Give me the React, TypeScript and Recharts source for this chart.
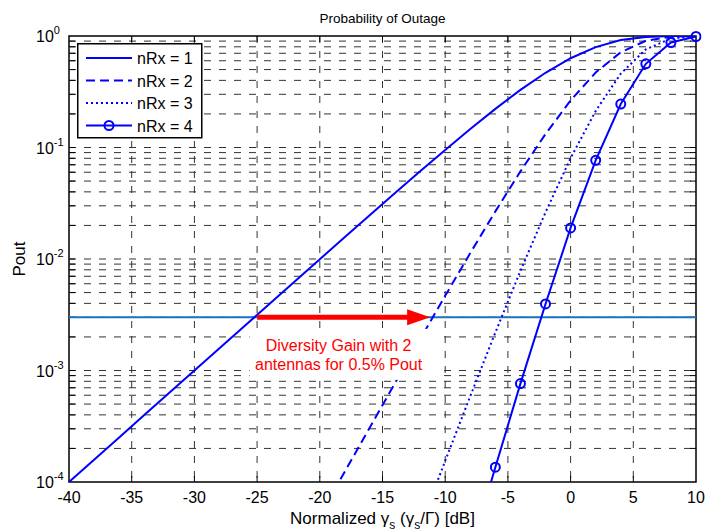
import React from 'react';
import { LineChart, Line, XAxis, YAxis, ReferenceLine, ReferenceDot, ReferenceArea, Legend } from 'recharts';

// Normalized SNR (dB) sample points
const snrDb = [-40, -38, -36, -34, -32, -30, -28, -26, -24, -22, -20, -18, -16, -14, -12, -10, -8, -6, -4, -2, 0, 2, 4, 6, 8, 10];

// Outage probability for each number of receive antennas
const poutRx1 = [1.0e-4, 1.585e-4, 2.512e-4, 3.98e-4, 6.308e-4, 9.995e-4, 1.584e-3, 2.509e-3, 3.973e-3, 6.29e-3, 9.95e-3, 1.572e-2, 2.481e-2, 3.903e-2, 6.115e-2, 9.516e-2, 0.1466, 0.2221, 0.3284, 0.4679, 0.6321, 0.795, 0.9189, 0.9813, 0.9982, 0.99995];
const poutRx2 = [null, null, null, null, null, null, null, null, null, null, 4.97e-5, 1.243e-4, 3.1e-4, 7.72e-4, 1.909e-3, 4.679e-3, 1.131e-2, 2.674e-2, 6.105e-2, 0.1322, 0.2642, 0.4702, 0.7152, 0.907, 0.9867, 0.9995];
const poutRx3 = [null, null, null, null, null, null, null, null, null, null, null, null, null, null, 3.993e-5, 1.5465e-4, 5.894e-4, 2.1905e-3, 7.825e-3, 2.623e-2, 8.03e-2, 0.2127, 0.4593, 0.7591, 0.9505, 0.9972];
const poutRx4 = [null, null, null, null, null, null, null, null, null, null, null, null, null, null, null, null, 2.315e-5, 1.358e-4, 7.627e-4, 3.95e-3, 1.899e-2, 7.67e-2, 0.2451, 0.5629, 0.8745, 0.9897];

const seriesNames = ['nRx = 1', 'nRx = 2', 'nRx = 3', 'nRx = 4'];
const xTicks = [-40, -35, -30, -25, -20, -15, -10, -5, 0, 5, 10];
const yTicks = [1e-4, 1e-3, 1e-2, 1e-1, 1];
const yMinorMultipliers = [2, 3, 4, 5, 6, 7, 8, 9];

const thresholdPout = 0.003;
const arrowStartDb = -25;
const arrowTipDb = -11.2;
const annotationDb = -18.5;
const annotationPout = 0.0015;
const annotationLines = ['Diversity Gain with 2', 'antennas for 0.5% Pout'];

const titleText = 'Probability of Outage';

const data = snrDb.map((x, i) => ({ x, p1: poutRx1[i], p2: poutRx2[i], p3: poutRx3[i], p4: poutRx4[i] }));

const gridY: number[] = [];
yTicks.slice(0, -1).forEach((d, i) => {
  if (i > 0) gridY.push(d);
  yMinorMultipliers.forEach((m) => gridY.push(d * m));
});
const gridX = xTicks.slice(1, -1);

const FONT = '"Liberation Sans", Arial, Helvetica, sans-serif';
const BLUE = '#0000ff';
const GRID = '#333333';
const TICK = 6;

const seriesStyles = [
  { key: 'p1', dash: undefined as string | undefined, marker: false },
  { key: 'p2', dash: '9 5', marker: false },
  { key: 'p3', dash: '2 3', marker: false },
  { key: 'p4', dash: undefined, marker: true },
];

const HGridShape = (p: any) => {
  const { x1, y1, x2, y2 } = p;
  return (
    <g>
      <line x1={x1} y1={y1} x2={x2} y2={y2} stroke={GRID} strokeWidth={1} strokeDasharray="7 8" />
      <line x1={x1} y1={y1} x2={x1 + TICK} y2={y1} stroke="#000" strokeWidth={1} />
      <line x1={x2 - TICK} y1={y1} x2={x2} y2={y1} stroke="#000" strokeWidth={1} />
    </g>
  );
};

const VGridShape = (p: any) => {
  const { x1, y1, x2, y2 } = p;
  const top = Math.min(y1, y2);
  const bot = Math.max(y1, y2);
  return (
    <g>
      <line x1={x1} y1={top} x2={x2} y2={bot} stroke={GRID} strokeWidth={1} strokeDasharray="7 8" />
      <line x1={x1} y1={bot} x2={x1} y2={bot - TICK} stroke="#000" strokeWidth={1} />
      <line x1={x1} y1={top} x2={x1} y2={top + TICK} stroke="#000" strokeWidth={1} />
    </g>
  );
};

const ArrowShape = (p: any) => {
  const { x1, y1, x2 } = p;
  const headLen = 23;
  return (
    <g>
      <line x1={x1} y1={y1} x2={x2 - headLen + 2} y2={y1} stroke="#ff0000" strokeWidth={5} />
      <polygon points={`${x2},${y1} ${x2 - headLen},${y1 - 8} ${x2 - headLen},${y1 + 8}`} fill="#ff0000" />
    </g>
  );
};

const AnnotationShape = (p: any) => {
  const { cx, cy } = p;
  return (
    <g>
      <rect x={cx - 89} y={cy - 22} width={188} height={51} fill="#ffffff" />
      <text x={cx} y={cy} textAnchor="middle" fontFamily={FONT} fontSize={16} fill="#ff0000">
        {annotationLines.map((t, i) => (
          <tspan key={i} x={cx} dy={i === 0 ? 0 : 19}>{t}</tspan>
        ))}
      </text>
    </g>
  );
};

const XTick = (p: any) => {
  const { x, y, payload } = p;
  return (
    <text x={x} y={y} dy={13} textAnchor="middle" fontFamily={FONT} fontSize={16} fill="#000">
      {payload.value}
    </text>
  );
};

const YTick = (p: any) => {
  const { y, payload } = p;
  const exp = Math.round(Math.log10(payload.value));
  return (
    <text x={36} y={y + 6} textAnchor="start" fontFamily={FONT} fontSize={16} fill="#000">
      10<tspan fontSize={11} dy={-8}>{String(exp)}</tspan>
    </text>
  );
};

const XLabel = (p: any) => {
  const vb = p.viewBox || {};
  const cx = vb.x + vb.width / 2;
  const y = vb.y + 42;
  return (
    <text x={cx} y={y} textAnchor="middle" fontFamily={FONT} fontSize={17} fill="#000">
      Normalized γ<tspan fontSize={12} dy={5}>s</tspan>
      <tspan dy={-5}> (γ</tspan>
      <tspan fontSize={12} dy={5}>s</tspan>
      <tspan dy={-5}>/Γ) [dB]</tspan>
    </text>
  );
};

const YLabel = (p: any) => {
  const vb = p.viewBox || {};
  const cy = vb.y + vb.height / 2;
  const x = 25;
  return (
    <text x={x} y={cy} transform={`rotate(-90 ${x} ${cy})`} textAnchor="middle" fontFamily={FONT} fontSize={17} fill="#000">
      Pout
    </text>
  );
};

const LegendBox = () => (
  <svg width={126} height={96} style={{ display: 'block' }}>
    <rect x={0.75} y={0.75} width={124} height={94} fill="#fff" stroke="#000" strokeWidth={1.5} />
    {seriesStyles.map((s, i) => {
      const cy = 15 + i * 22.5;
      return (
        <g key={s.key}>
          <line x1={9} x2={55} y1={cy} y2={cy} stroke={BLUE} strokeWidth={2} strokeDasharray={s.dash} />
          {s.marker && <circle cx={32} cy={cy} r={4.5} fill="none" stroke={BLUE} strokeWidth={2} />}
          <text x={60} y={cy + 6} fontFamily={FONT} fontSize={16} fill="#000">{seriesNames[i]}</text>
        </g>
      );
    })}
  </svg>
);

const markerDot = { r: 4.5, fill: 'none', stroke: BLUE, strokeWidth: 2, clipDot: false };

export default function App() {
  return (
    <div style={{ position: 'absolute', left: 0, top: 0, width: 706, height: 531, background: '#fff' }}>
      <LineChart width={706} height={531} data={data} margin={{ top: 36, right: 10, bottom: 0, left: 0 }}>
        <XAxis
          type="number"
          dataKey="x"
          domain={[-40, 10]}
          ticks={xTicks}
          interval={0}
          height={49}
          axisLine={false}
          tickLine={false}
          tick={<XTick />}
          label={<XLabel />}
        />
        <YAxis
          type="number"
          scale="log"
          domain={[1e-4, 1]}
          ticks={yTicks}
          interval={0}
          allowDataOverflow
          width={69}
          axisLine={false}
          tickLine={false}
          tick={<YTick />}
          label={<YLabel />}
        />
        {gridY.map((v) => (
          <ReferenceLine key={`gy${v}`} y={v} shape={HGridShape} />
        ))}
        {gridX.map((v) => (
          <ReferenceLine key={`gx${v}`} x={v} shape={VGridShape} />
        ))}
        <ReferenceLine y={thresholdPout} stroke="#1a72c0" strokeWidth={2} />
        {seriesStyles.map((s, i) => (
          <Line
            key={s.key}
            type="linear"
            dataKey={s.key}
            name={seriesNames[i]}
            stroke={BLUE}
            strokeWidth={2}
            strokeDasharray={s.dash}
            dot={s.marker ? markerDot : false}
            activeDot={false}
            isAnimationActive={false}
          />
        ))}
        <ReferenceLine
          segment={[{ x: arrowStartDb, y: thresholdPout }, { x: arrowTipDb, y: thresholdPout }]}
          shape={ArrowShape}
        />
        <ReferenceDot x={annotationDb} y={annotationPout} shape={AnnotationShape} />
        <ReferenceArea x1={-40} x2={10} y1={1e-4} y2={1} fill="none" fillOpacity={0} stroke="#000" strokeWidth={1.5} />
        <Legend
          layout="horizontal"
          verticalAlign="middle"
          align="center"
          content={<LegendBox />}
          wrapperStyle={{ left: 77, top: 43, width: 126, height: 96, bottom: 'auto', right: 'auto' }}
        />
      </LineChart>
      <svg width={706} height={40} style={{ position: 'absolute', left: 0, top: 0, pointerEvents: 'none' }}>
        <text x={382.5} y={23} textAnchor="middle" fontFamily={FONT} fontSize={13.5} fill="#000">{titleText}</text>
      </svg>
    </div>
  );
}
